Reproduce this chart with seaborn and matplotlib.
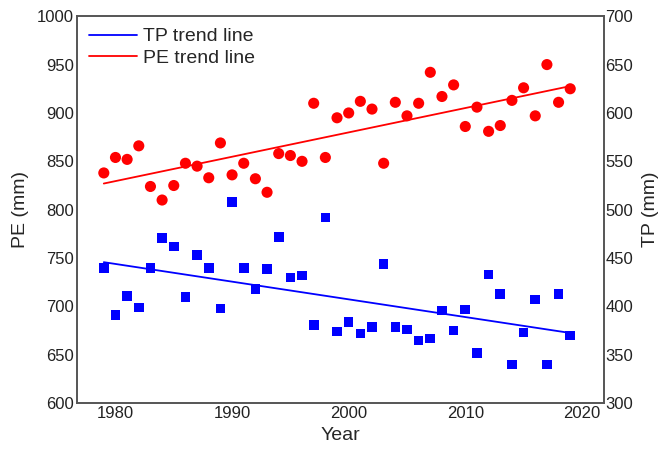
#!/usr/bin/env python3

"""PE and TP yearly values with linear trend lines, two y axes"""

import numpy as np
import pandas as pd
import matplotlib
matplotlib.use("Agg")
import matplotlib.pyplot as plt
import seaborn as sns

years = list(range(1979, 2020))

# PE (mm), left axis
pe = [838, 854, 852, 866, 824, 810, 825, 848, 845, 833, 869, 836, 848,
      832, 818, 858, 856, 850, 910, 854, 895, 900, 912, 904, 848, 911,
      897, 910, 942, 917, 929, 886, 906, 881, 887, 913, 926, 897, 950,
      911, 925]

# TP (mm), right axis
tp = [440, 391, 411, 399, 440, 471, 462, 410, 453, 440, 398, 508, 440,
      418, 439, 472, 430, 432, 381, 492, 374, 384, 372, 379, 444, 379,
      376, 365, 367, 396, 375, 397, 352, 433, 413, 340, 373, 407, 340,
      413, 370]

df = pd.DataFrame({"Year": years, "PE": pe, "TP": tp})

sns.set_style("white")
plt.rcParams["font.family"] = ["Liberation Sans", "DejaVu Sans"]

fig, ax = plt.subplots(figsize=(6.58, 4.5), dpi=100)
fig.subplots_adjust(left=0.117, right=0.918, top=0.964, bottom=0.104)
ax2 = ax.twinx()

# PE points + trend
sns.scatterplot(data=df, x="Year", y="PE", ax=ax, color="#ff0000", marker="o",
                s=64, edgecolor="none", zorder=3)
sns.regplot(data=df, x="Year", y="PE", ax=ax, scatter=False, ci=None,
            color="#ff0000", line_kws={"linewidth": 1.3}, label="PE trend line")

# TP points + trend
sns.scatterplot(data=df, x="Year", y="TP", ax=ax2, color="#0000ff", marker="s",
                s=48, edgecolor="none", zorder=3)
sns.regplot(data=df, x="Year", y="TP", ax=ax2, scatter=False, ci=None,
            color="#0000ff", line_kws={"linewidth": 1.3}, label="TP trend line")

ax.set_xlim(1976.7, 2021.9)
ax.set_ylim(600, 1000)
ax2.set_ylim(300, 700)
ax.set_xticks([1980, 1990, 2000, 2010, 2020])
ax.set_yticks(range(600, 1001, 50))
ax2.set_yticks(range(300, 701, 50))

ax.set_xlabel("Year", fontsize=14, labelpad=4)
ax.set_ylabel("PE (mm)", fontsize=14, labelpad=6)
ax2.set_ylabel("TP (mm)", fontsize=14, labelpad=6)
ax.tick_params(axis="both", length=0, pad=2, labelsize=12, colors="#222222")
ax2.tick_params(axis="y", length=0, pad=1, labelsize=12, colors="#222222")

for a in (ax, ax2):
    for sp in a.spines.values():
        sp.set_color("#555555")
        sp.set_linewidth(1.2)

tp_line = ax2.get_lines()[-1]
pe_line = ax.get_lines()[-1]
ax2.legend(handles=[tp_line, pe_line], labels=["TP trend line", "PE trend line"],
           loc="upper left", frameon=False, fontsize=14, handlelength=2.5,
           handletextpad=0.3, labelspacing=0.2, borderaxespad=0.2,
           bbox_to_anchor=(0.0, 1.0))

fig.savefig("out.png", dpi=100)
